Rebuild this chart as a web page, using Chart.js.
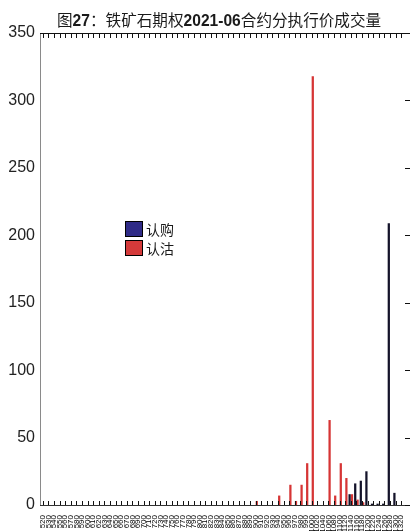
<!DOCTYPE html>
<html>
<head>
<meta charset="utf-8">
<script src="https://cdn.jsdelivr.net/npm/chart.js@4"></script>
<style>
  html, body { margin: 0; padding: 0; background: #fff; }
  #wrap { position: relative; width: 410px; height: 531px; overflow: hidden; background: #fff; }
  #title { position: absolute; left: 57px; top: 11px; font-size: 15.6px; line-height: 16px; white-space: nowrap;
           font-family: "Noto Sans CJK SC", sans-serif; color: #1a1a1a; }
  #title b { font-family: "Liberation Sans", Arial, sans-serif; font-weight: bold; }
  .leg { position: absolute; left: 125px; height: 16px; font-family: "Noto Sans CJK SC", sans-serif; font-size: 14px; line-height: 16px; color: #1a1a1a; white-space: nowrap; }
  .sw { display: inline-block; width: 16px; height: 14px; border: 1px solid #000; vertical-align: top; margin-right: 3px; }
  canvas { position: absolute; left: 0; top: 0; }
</style>
</head>
<body>
<div id="wrap">
  <canvas id="c" width="410" height="531"></canvas>
  <div id="title">图<b>27</b>：铁矿石期权<b>2021-06</b>合约分执行价成交量</div>
  <div class="leg" style="top:221px"><span class="sw" style="background:#2f2b87"></span>认购</div>
  <div class="leg" style="top:240px"><span class="sw" style="background:#d43a3a"></span>认沽</div>
</div>
<script>
const strikes = [
  '520','530','540','550','560','570','580','590','600','610',
  '620','630','640','650','660','670','680','690','700','710',
  '720','730','740','750','760','770','780','790','800','810',
  '820','830','840','850','860','870','880','890','900','910',
  '920','930','940','950','960','970','980','990','1000','1020',
  '1040','1060','1080','1100','1120','1140','1160','1180','1200','1220',
  '1240','1260','1280','1300','1320'
];
const callVolume = [
  0,0,0,0,0,0,0,0,0,0,
  0,0,0,0,0,0,0,0,0,0,
  0,0,0,0,0,0,0,0,0,0,
  0,0,0,0,0,0,0,0,0,0,
  0,0,0,0,0,0,0,0,0,0,
  0,0,0,0,0,8,16,18,25,1,
  1,1,209,9,0
];
const putVolume = [
  0,0,0,0,0,0,0,0,0,0,
  0,0,0,0,0,0,0,0,0,0,
  0,0,0,0,0,0,0,0,0,0,
  0,0,0,0,0,0,0,0,3,0,
  0,0,7,0,15,3,15,31,318,0,
  0,63,7,31,20,8,4,2,0,0,
  0,0,0,0,0
];
const yTicks = [0, 50, 100, 150, 200, 250, 300, 350];
const seriesNames = ['认购', '认沽'];

const framePlugin = {
  id: 'frame',
  afterDraw(chart) {
    const ctx = chart.ctx;
    const a = chart.chartArea;
    const xs = chart.scales.x, ys = chart.scales.y;
    ctx.save();
    ctx.lineWidth = 1;
    ctx.strokeStyle = '#8a8a8a';
    ctx.beginPath(); ctx.moveTo(40.5, a.top); ctx.lineTo(40.5, a.bottom); ctx.stroke();
    ctx.strokeStyle = '#111';
    ctx.beginPath(); ctx.moveTo(40, 33.5); ctx.lineTo(410, 33.5); ctx.stroke();
    ctx.strokeStyle = '#333';
    ctx.beginPath(); ctx.moveTo(40, a.bottom + 0.5); ctx.lineTo(410, a.bottom + 0.5); ctx.stroke();
    ctx.strokeStyle = '#111';
    for (let i = 0; i < strikes.length; i++) {
      const x = Math.round(xs.getPixelForTick(i)) + 0.5;
      ctx.beginPath(); ctx.moveTo(x, 34); ctx.lineTo(x, 38); ctx.stroke();
      ctx.beginPath(); ctx.moveTo(x, a.bottom); ctx.lineTo(x, a.bottom - 4); ctx.stroke();
    }
    for (const v of yTicks) {
      const y = Math.round(ys.getPixelForValue(v)) + 0.5;
      ctx.beginPath(); ctx.moveTo(410, y); ctx.lineTo(405, y); ctx.stroke();
    }
    ctx.restore();
  }
};

new Chart(document.getElementById('c'), {
  type: 'bar',
  data: {
    labels: strikes,
    datasets: [
      { label: seriesNames[0], data: callVolume, backgroundColor: '#14132a', borderWidth: 0,
        categoryPercentage: 0.85, barPercentage: 0.95 },
      { label: seriesNames[1], data: putVolume, backgroundColor: '#d63535', borderWidth: 0,
        categoryPercentage: 0.85, barPercentage: 0.95 }
    ]
  },
  options: {
    responsive: false,
    animation: false,
    devicePixelRatio: 1,
    layout: { padding: { top: 33, right: 6, left: 0, bottom: 0 } },
    plugins: { legend: { display: false }, title: { display: false }, tooltip: { enabled: false } },
    scales: {
      x: {
        offset: true,
        grid: { display: false, drawTicks: false },
        border: { display: false },
        ticks: {
          autoSkip: false, maxRotation: 90, minRotation: 90, padding: 10,
          color: '#000', font: { family: 'Liberation Sans', size: 8 }
        },
        afterFit(scale) { scale.height = 26; scale.paddingLeft = 0; scale.paddingRight = 0; }
      },
      y: {
        min: 0, max: 350,
        grid: { display: false, drawTicks: false },
        border: { display: false },
        ticks: {
          stepSize: 50, padding: 5, color: '#222',
          font: { family: 'Liberation Sans', size: 16 }
        },
        afterFit(scale) { scale.width = 40; scale.paddingTop = 0; scale.paddingBottom = 0; }
      }
    }
  },
  plugins: [framePlugin]
});
</script>
</body>
</html>
